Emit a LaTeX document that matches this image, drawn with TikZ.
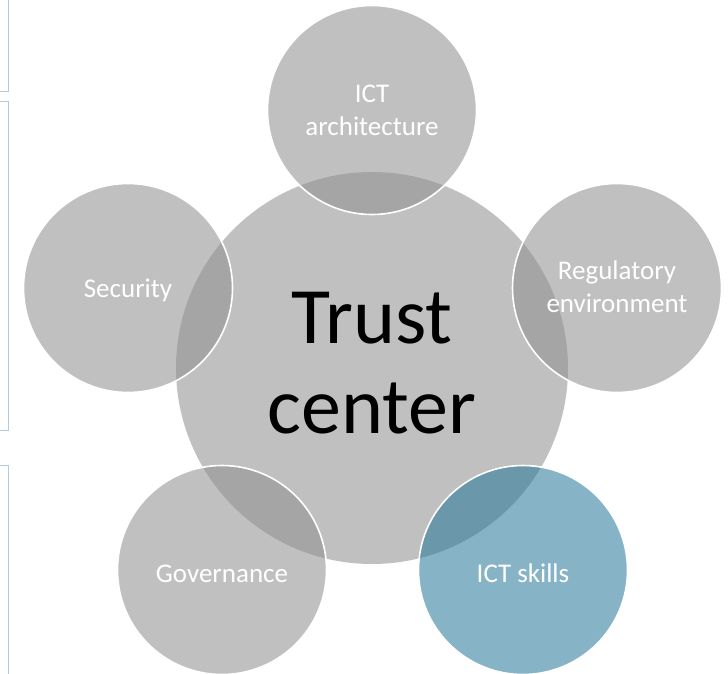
\documentclass[tikz,border=0pt]{standalone}
\usepackage{fontspec}
\setmainfont{Carlito}
\definecolor{hubfill}{HTML}{C0C0C0}
\definecolor{satgrey}{HTML}{919191}
\definecolor{satblue}{HTML}{2B7A9B}
\definecolor{boxline}{HTML}{B5CADC}
\begin{document}
\begin{tikzpicture}[x=1pt,y=-1pt,
  hub/.style={circle,fill=hubfill,minimum size=392pt,inner sep=0pt,
    align=center,text=black,font=\fontsize{80}{90}\selectfont},
  sat/.style={circle,fill=satgrey,fill opacity=0.571,text opacity=1,
    draw=white,draw opacity=1,line width=1.6pt,minimum size=209pt,inner sep=0pt,
    align=center,text=white,font=\fontsize{27}{33}\selectfont},
  satb/.style={sat,fill=satblue},
  lbl/.style={inner sep=0pt,align=center,text=white,font=\fontsize{27}{33}\selectfont},
  edge/.style={draw=boxline,line width=1pt}]
\useasboundingbox (0,0) rectangle (728,674);
% partial boxes at the left edge
\draw[edge] (0,92) -- (8.5,92) -- (8.5,0);
\draw[edge] (0,102) -- (8.5,102) -- (8.5,430) -- (0,430);
\draw[edge] (0,465) -- (8.5,465) -- (8.5,674);
% hub
\node[hub] (hub) at (372,368) {};
\node[inner sep=0pt,align=center,font=\fontsize{80}{90}\selectfont] (hubtxt) at (372,363) {Trust\\center};
% satellites
\node[sat] (arch) at (372,110) {};
\node[sat] (sec) at (128,288) {};
\node[sat] (reg) at (617,288) {};
\node[sat] (gov) at (222,570) {};
\node[satb] (skills) at (523,570) {};
% labels
\node[lbl] (archtxt) at (372,110) {ICT\\architecture};
\node[lbl,anchor=base] (sectxt) at (128,297) {Security};
\node[lbl] (regtxt) at (617,287) {Regulatory\\environment};
\node[lbl,anchor=base] (govtxt) at (222,582) {Governance};
\node[lbl,anchor=base] (skillstxt) at (523,582) {ICT skills};
\end{tikzpicture}
\end{document}
